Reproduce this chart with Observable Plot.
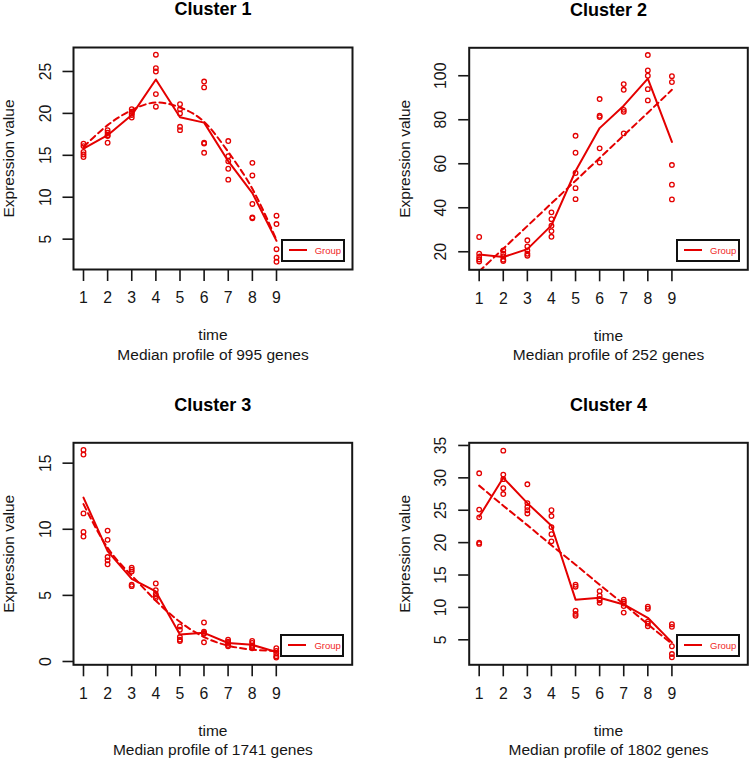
<!DOCTYPE html>
<html><head><meta charset="utf-8">
<script src="https://cdn.jsdelivr.net/npm/d3@7"></script>
<script src="https://cdn.jsdelivr.net/npm/@observablehq/plot@0.6"></script>
<style>
html,body{margin:0;padding:0;background:#fff;}
#grid{position:relative;width:750px;height:760px;font-family:"Liberation Sans",Arial,sans-serif;}
.cell{position:absolute;width:375px;height:380px;}
.cell svg{display:block;}
.legend{position:absolute;width:64px;height:23px;box-sizing:border-box;border:2px solid #111;background:#fff;}
.legend .ln{position:absolute;left:6px;top:8.5px;width:18px;height:0;border-top:2px solid #e40000;}
.legend .tx{position:absolute;left:32px;top:4px;font-size:9.5px;line-height:11px;color:#f02828;}
</style>
</head><body>
<div id="grid"></div>
<script>
// ---------- data ----------
const times = [1, 2, 3, 4, 5, 6, 7, 8, 9];
const xTickLabels = ["1", "2", "3", "4", "5", "6", "7", "8", "9"];
const titles = ["Cluster 1", "Cluster 2", "Cluster 3", "Cluster 4"];
const subtitles = ["Median profile of 995 genes", "Median profile of 252 genes",
                   "Median profile of 1741 genes", "Median profile of 1802 genes"];
const xLabel = "time";
const yLabel = "Expression value";
const legendLabel = "Group";

const yTicks1 = [5, 10, 15, 20, 25];
const yTicks2 = [20, 40, 60, 80, 100];
const yTicks3 = [0, 5, 10, 15];
const yTicks4 = [5, 10, 15, 20, 25, 30, 35];

// replicate values per time point
const points1 = [
  [16.4, 16.1, 15.4, 15.1, 14.8],
  [18.0, 17.7, 17.4, 17.3, 16.5],
  [20.5, 20.2, 20.0, 19.8, 19.5],
  [27.0, 25.4, 25.0, 22.3, 20.8],
  [21.1, 20.5, 20.0, 18.4, 18.0],
  [23.8, 23.1, 16.5, 16.4, 15.3],
  [16.7, 14.9, 14.3, 13.4, 12.1],
  [14.1, 12.6, 9.2, 7.6, 7.5],
  [7.8, 6.8, 3.8, 2.8, 2.3]
];
const line1 = [15.8, 17.4, 19.8, 24.05, 19.55, 18.9, 14.3, 10.5, 4.8];
const fit1  = [16.0, 18.6, 20.4, 21.3, 20.7, 19.0, 15.4, 11.0, 4.9];

const points2 = [
  [26.7, 19.1, 17.6, 16.5, 15.6],
  [20.6, 19.1, 17.9, 16.4, 15.8],
  [25.2, 22.4, 20.6, 19.1, 18.2],
  [37.9, 34.8, 31.8, 29.4, 26.8],
  [72.7, 65.0, 55.8, 48.9, 43.9],
  [89.4, 81.8, 81.2, 67.0, 60.6],
  [96.2, 93.6, 84.5, 83.6, 73.8],
  [109.4, 102.4, 100.0, 93.9, 88.8],
  [99.8, 97.1, 59.4, 50.5, 43.8]
];
const line2 = [18.8, 17.6, 21.2, 32.0, 56.7, 76.2, 86.4, 98.7, 69.9];
const fit2  = [11.1, 21.4, 31.7, 42.0, 52.3, 62.6, 72.9, 83.2, 93.6];

const points3 = [
  [16.0, 15.65, 11.2, 9.8, 9.45],
  [9.9, 9.2, 7.9, 7.65, 7.35],
  [7.1, 6.95, 6.8, 5.8, 5.7],
  [5.9, 5.4, 5.1, 4.95, 4.8],
  [2.65, 2.4, 1.85, 1.65, 1.55],
  [2.95, 2.25, 2.15, 2.1, 1.45],
  [1.65, 1.5, 1.4, 1.25, 1.15],
  [1.55, 1.4, 1.2, 1.1, 1.0],
  [1.0, 0.8, 0.6, 0.4, 0.3]
];
const line3 = [12.4, 8.35, 6.25, 5.3, 2.05, 2.17, 1.4, 1.26, 0.72];
const fit3  = [11.9, 8.6, 6.5, 4.6, 3.0, 1.85, 1.2, 0.9, 0.8];

const points4 = [
  [30.7, 25.1, 23.9, 20.0, 19.8],
  [34.2, 30.5, 29.8, 28.4, 27.5],
  [29.0, 26.1, 25.5, 25.0, 24.5],
  [25.0, 24.1, 22.4, 21.3, 20.2],
  [13.5, 13.2, 9.5, 9.0, 8.7],
  [12.5, 11.8, 11.3, 11.1, 10.7],
  [11.2, 10.9, 10.6, 10.2, 9.2],
  [10.1, 9.8, 7.8, 7.5, 7.1],
  [7.4, 7.0, 4.0, 2.8, 2.3]
];
const line4 = [24.0, 30.0, 26.1, 22.6, 11.2, 11.5, 10.45, 8.4, 4.6];
const fit4  = [28.8, 25.7, 22.7, 19.6, 16.6, 13.5, 10.5, 7.4, 4.4];

// ---------- layout ----------
const RED = "#e40000";
const INK = "#161616";
const xDomain = [0.5855, 12.15];
const panels = [
  {left: 0,   top: 0,   ml: 73,   mr: 23,  mt: 47,   mb: 111,   yDomain: [1.38, 27.86], yTicks: yTicks1, points: points1, line: line1, fit: fit1},
  {left: 375, top: 0,   ml: 93.7, mr: 2.7, mt: 47.3, mb: 110.7, yDomain: [11.8, 112.7], yTicks: yTicks2, points: points2, line: line2, fit: fit2},
  {left: 0,   top: 380, ml: 73,   mr: 23.3,mt: 62.3, mb: 95.7,  yDomain: [-0.25, 16.54], yTicks: yTicks3, points: points3, line: line3, fit: fit3},
  {left: 375, top: 380, ml: 93.7, mr: 2.7, mt: 62.3, mb: 95.7,  yDomain: [1.14, 35.41], yTicks: yTicks4, points: points4, line: line4, fit: fit4}
];

const grid = document.getElementById("grid");

panels.forEach((p, k) => {
  const pts = p.points.flatMap((vals, i) => vals.map(v => ({t: times[i], v})));
  const solid = times.map((t, i) => ({t, v: p.line[i]}));
  const dashed = times.map((t, i) => ({t, v: p.fit[i]}));

  const chart = Plot.plot({
    width: 375,
    height: 380,
    marginLeft: p.ml, marginRight: p.mr, marginTop: p.mt, marginBottom: p.mb,
    style: {fontFamily: "'Liberation Sans', Arial, sans-serif", fontSize: "15.5px", color: INK, background: "white", overflow: "visible"},
    x: {domain: xDomain},
    y: {domain: p.yDomain},
    marks: [
      Plot.axisX({ticks: times, tickSize: 12, fill: "none", stroke: INK, strokeWidth: 1.6, label: null}),
      Plot.axisY({ticks: p.yTicks, tickSize: 10.5, fill: "none", stroke: INK, strokeWidth: 1.6, label: null}),
      Plot.text(times, {x: d => d, text: (d, i) => xTickLabels[i], frameAnchor: "bottom", dy: 28.7, lineAnchor: "middle", fontSize: 15.8, fill: INK}),
      Plot.text(p.yTicks, {y: d => d, text: d => String(d), frameAnchor: "left", dx: -28, rotate: -90, textAnchor: "middle", lineAnchor: "middle", fontSize: 15.8, fill: INK}),
      Plot.text([titles[k]], {text: d => d, frameAnchor: "top", dy: -38, lineAnchor: "middle", fontSize: 18, fontWeight: "bold", fill: "#000"}),
      Plot.text([xLabel], {text: d => d, frameAnchor: "bottom", dy: 66, lineAnchor: "middle", fontSize: 15.5, fill: INK}),
      Plot.text([subtitles[k]], {text: d => d, frameAnchor: "bottom", dy: 85.5, lineAnchor: "middle", fontSize: 15.5, fill: INK}),
      Plot.text([yLabel], {text: d => d, frameAnchor: "left", dx: -64.5, rotate: -90, textAnchor: "middle", lineAnchor: "middle", fontSize: 15.5, fill: INK}),
      Plot.line(dashed, {x: "t", y: "v", stroke: RED, strokeWidth: 2, strokeDasharray: "6,4", curve: "natural", clip: true}),
      Plot.line(solid, {x: "t", y: "v", stroke: RED, strokeWidth: 2, clip: true}),
      Plot.dot(pts, {x: "t", y: "v", r: 2.3, stroke: RED, strokeWidth: 1.3, fill: "none"}),
      Plot.frame({stroke: INK, strokeWidth: 2})
    ]
  });

  const cell = document.createElement("div");
  cell.className = "cell";
  cell.style.left = p.left + "px";
  cell.style.top = p.top + "px";
  cell.appendChild(chart);

  const lg = document.createElement("div");
  lg.className = "legend";
  lg.style.left = (375 - p.mr - 7.3 - 64) + "px";
  lg.style.top = (380 - p.mb - 7.5 - 23) + "px";
  const ln = document.createElement("div"); ln.className = "ln";
  const tx = document.createElement("div"); tx.className = "tx"; tx.textContent = legendLabel;
  lg.appendChild(ln); lg.appendChild(tx);
  cell.appendChild(lg);

  grid.appendChild(cell);
});
</script>
</body></html>
